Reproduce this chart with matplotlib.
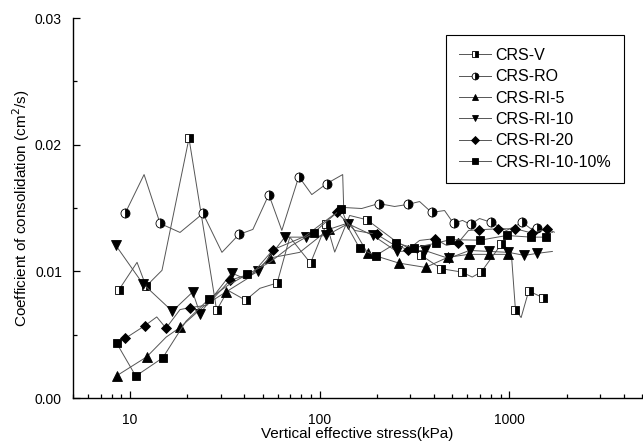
import matplotlib
matplotlib.use("Agg")
import matplotlib.pyplot as plt
from matplotlib.ticker import FixedLocator, LogLocator, NullFormatter, MultipleLocator, FixedFormatter

plt.rcParams['font.family'] = ['Liberation Sans', 'DejaVu Sans']

# ---- data (stress kPa, cv cm^2/s) ----
v_x = [8.75, 10.88, 12.14, 14.73, 20.44, 28.60, 32.80, 40.64, 48.34, 59.61, 69.51, 89.37,
       108.5, 119.9, 143.8, 177.4, 248.1, 343.0, 437.0, 560.9, 636.4, 709.7, 904.3, 1020.7,
       1075.5, 1152.4, 1263.5, 1497.5]
v_y = [0.00856, 0.01071, 0.00882, 0.01008, 0.0205, 0.00693, 0.0085, 0.00772, 0.00866, 0.00908,
       0.0127, 0.01065, 0.01376, 0.01152, 0.01441, 0.01407, 0.01244, 0.01126, 0.01021, 0.00994,
       0.00955, 0.00994, 0.01213, 0.01165, 0.00698, 0.00635, 0.00845, 0.00793]
v_m = [0, 2, 4, 5, 7, 9, 11, 12, 15, 17, 18, 19, 21, 22, 24, 26, 27]

ro_x = [9.41, 11.85, 14.39, 18.33, 24.23, 30.50, 37.48, 44.40, 53.89, 63.10, 77.53, 90.78,
        108.9, 132.1, 133.7, 166.4, 204.4, 248.1, 290.5, 336.0, 388.6, 455.0, 507.5, 565.7,
        623.4, 695.2, 804.2, 964.2, 1170.7, 1289.5, 1404.4, 1683.9]
ro_y = [0.01457, 0.01764, 0.01378, 0.01307, 0.01457, 0.0115, 0.01291, 0.01331, 0.01606, 0.01323,
        0.01748, 0.01606, 0.01693, 0.01764, 0.01504, 0.01496, 0.01535, 0.01512, 0.01528, 0.01551,
        0.01465, 0.0148, 0.01378, 0.01402, 0.0137, 0.01417, 0.01386, 0.01323, 0.01386, 0.01339,
        0.01339, 0.01307]
ro_m = [0, 2, 4, 6, 8, 10, 12, 16, 18, 20, 22, 24, 26, 28, 30]

ri5_x = [8.51, 12.24, 15.47, 18.33, 24.81, 32.01, 41.78, 54.55, 78.47, 111.5, 143.8, 178.9,
         261.4, 361.4, 471.8, 608.5, 784.9, 987.9]
ri5_y = [0.00176, 0.00325, 0.0048, 0.00557, 0.00732, 0.00837, 0.00945, 0.01105, 0.0115, 0.01331,
         0.01386, 0.01142, 0.01065, 0.01031, 0.0111, 0.01134, 0.01134, 0.01134]
ri5_m = [0, 1, 3, 5, 7, 9, 11, 12, 13, 14, 15, 16, 17]

ri10_x = [8.41, 11.66, 16.70, 21.38, 23.36, 34.30, 40.3, 47.36, 65.44, 84.38, 108.5, 140.9,
          190.8, 254.2, 357.0, 477.6, 615.9, 784.9, 987.9, 1199.3, 1404.4, 1683.9]
ri10_y = [0.01205, 0.00903, 0.00685, 0.00837, 0.00667, 0.00987, 0.00942, 0.01, 0.0127, 0.0127,
          0.01283, 0.01376, 0.01283, 0.01157, 0.01165, 0.01102, 0.01165, 0.01157, 0.0115, 0.01126,
          0.01142, 0.01157]
ri10_m = [0, 1, 2, 3, 4, 5, 7, 8, 9, 10, 11, 12, 13, 14, 15, 16, 17, 18, 19, 20]

ri20_x = [9.41, 11.99, 13.82, 15.47, 18.33, 20.70, 25.42, 33.60, 44.40, 56.78, 83.4, 123.3,
          152.8, 200.3, 239.2, 291.5, 336.0, 403.0, 465.9, 534.6, 608.5, 689.3, 867.8, 1075.5,
          1316.5, 1579.4, 1725.2]
ri20_y = [0.0047, 0.00572, 0.0064, 0.00551, 0.00698, 0.00714, 0.00732, 0.00929, 0.00987, 0.01171,
          0.01276, 0.01467, 0.01323, 0.01291, 0.0122, 0.01171, 0.01244, 0.01258, 0.01205, 0.01223,
          0.01323, 0.01328, 0.01336, 0.01336, 0.01302, 0.01336, 0.01309]
ri20_m = [0, 1, 3, 5, 7, 9, 11, 13, 15, 17, 19, 21, 22, 23, 24, 25]

ri1010_x = [8.51, 10.71, 14.86, 19.71, 26.05, 32.80, 41.44, 54.55, 71.22, 92.99, 110.2, 130.1,
            143.8, 162.4, 197.1, 253.3, 312.4, 411.4, 487.5, 701.2, 967.8, 1300.6, 1560.5]
ri1010_y = [0.00431, 0.00173, 0.00317, 0.00606, 0.00782, 0.0089, 0.00976, 0.01071, 0.01205,
            0.01305, 0.01402, 0.01494, 0.01323, 0.01181, 0.01124, 0.01223, 0.01185, 0.01223,
            0.0125, 0.01246, 0.01283, 0.0127, 0.0127]
ri1010_m = [0, 1, 2, 4, 6, 9, 11, 13, 14, 15, 16, 17, 18, 19, 20, 21, 22]

labels = ['CRS-V', 'CRS-RO', 'CRS-RI-5', 'CRS-RI-10', 'CRS-RI-20', 'CRS-RI-10-10%']

fig = plt.figure(figsize=(6.43, 4.45), dpi=100)
ax = fig.add_axes([73/643, 47/445, 569/643, 380/445])

lc = '#555555'
lw = 0.7
common = dict(color=lc, lw=lw, markeredgecolor='black', markeredgewidth=0.6)

ax.plot(v_x, v_y, marker='s', ms=6, fillstyle='right', markerfacecolor='black',
        markerfacecoloralt='white', markevery=v_m, label=labels[0], **common)
ax.plot(ro_x, ro_y, marker='o', ms=6.5, fillstyle='right', markerfacecolor='black',
        markerfacecoloralt='white', markevery=ro_m, label=labels[1], **common)
ax.plot(ri5_x, ri5_y, marker='^', ms=6.5, markerfacecolor='black', markevery=ri5_m,
        label=labels[2], **common)
ax.plot(ri10_x, ri10_y, marker='v', ms=6.5, markerfacecolor='black', markevery=ri10_m,
        label=labels[3], **common)
ax.plot(ri20_x, ri20_y, marker='D', ms=5.5, markerfacecolor='black', markevery=ri20_m,
        label=labels[4], **common)
ax.plot(ri1010_x, ri1010_y, marker='s', ms=5.5, markerfacecolor='black', markevery=ri1010_m,
        label=labels[5], **common)

ax.set_xscale('log')
ax.set_xlim(5, 5000)
ax.set_ylim(0, 0.03)

ax.xaxis.set_major_locator(FixedLocator([10, 100, 1000]))
ax.xaxis.set_major_formatter(FixedFormatter(['10', '100', '1000']))
ax.xaxis.set_minor_locator(LogLocator(base=10, subs=range(2, 10)))
ax.xaxis.set_minor_formatter(NullFormatter())
ax.yaxis.set_major_locator(MultipleLocator(0.01))
ax.yaxis.set_minor_locator(MultipleLocator(0.005))
ax.yaxis.set_major_formatter(plt.FuncFormatter(lambda v, p: f"{v:.2f}"))

ax.spines['top'].set_visible(False)
ax.spines['right'].set_visible(False)
for s in ['left', 'bottom']:
    ax.spines[s].set_linewidth(1.0)
ax.tick_params(which='both', direction='in', labelsize=10, width=0.9)
ax.tick_params(which='major', length=5)
ax.tick_params(axis='x', which='major', pad=11)
ax.tick_params(axis='y', which='major', pad=8)
ax.tick_params(which='minor', length=3)

ax.set_xlabel('Vertical effective stress(kPa)', fontsize=11, labelpad=0)
ax.set_ylabel('Coefficient of consolidation (cm$^2$/s)', fontsize=11, labelpad=2)

leg = ax.legend(loc='upper left', bbox_to_anchor=(0.6555, 0.955), fontsize=11.5,
                frameon=True, fancybox=False, edgecolor='black', framealpha=1,
                handlelength=2.0, handletextpad=0.3, borderpad=0.8, labelspacing=0.4,
                borderaxespad=0, markerscale=0.75)
leg.get_frame().set_linewidth(0.8)

fig.savefig('out.png', dpi=100)
